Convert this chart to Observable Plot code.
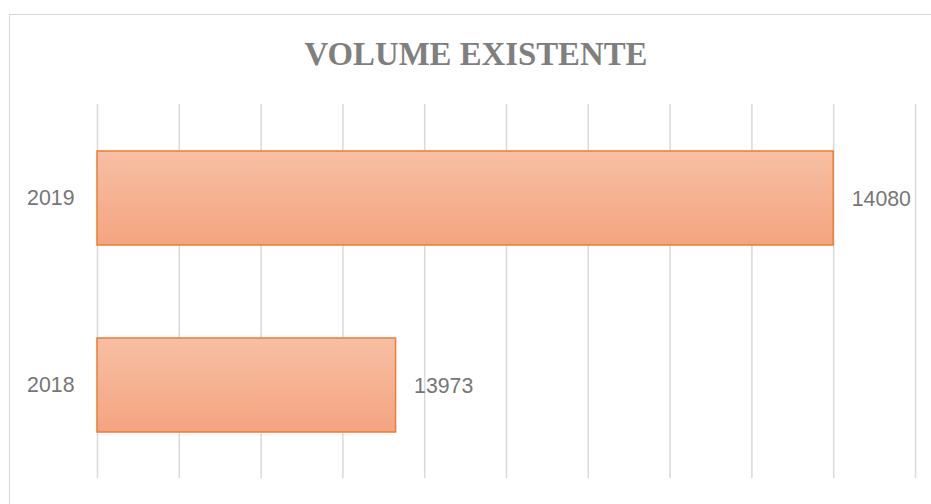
<!DOCTYPE html>
<html>
<head>
<meta charset="utf-8">
<script src="https://cdn.jsdelivr.net/npm/d3@7"></script>
<script src="https://cdn.jsdelivr.net/npm/@observablehq/plot@0.6"></script>
<style>
  html, body { margin: 0; padding: 0; background: #fff; }
  #wrap { position: relative; width: 931px; height: 504px; overflow: hidden; }
  #frame { position: absolute; left: 9px; top: 14px; width: 940px; height: 520px;
           border-left: 1.5px solid #d9d9d9; border-top: 1.5px solid #d9d9d9; box-sizing: border-box; }
  #title { position: absolute; left: 0; top: 35px; width: 952px; text-align: center;
           font-family: "Liberation Serif", "Times New Roman", serif; font-weight: bold;
           font-size: 32.8px; color: #7f7f7f; line-height: 38px; }
  #chart { position: absolute; left: 0; top: 0; }
</style>
</head>
<body>
<div id="wrap">
  <div id="frame"></div>
  <div id="title">VOLUME EXISTENTE</div>
  <div id="chart"></div>
</div>
<script>
const categories = ["2019", "2018"];
const values = [14080, 13973];
const xDomain = [13900, 14100];
const xTicks = [13900, 13920, 13940, 13960, 13980, 14000, 14020, 14040, 14060, 14080, 14100];

const data = categories.map((c, i) => ({year: c, value: values[i]}));

const chart = Plot.plot({
  width: 931,
  height: 504,
  marginLeft: 97,
  marginRight: 16,
  marginTop: 104,
  marginBottom: 26,
  style: {background: "transparent", fontFamily: "'Liberation Sans', Arial, sans-serif"},
  x: {domain: xDomain, axis: null},
  y: {domain: categories, paddingInner: 0.5, paddingOuter: 0.25, label: null},
  marks: [
    Plot.ruleX(xTicks, {stroke: "#d9d9d9", strokeWidth: 1.5}),
    Plot.barX(data, {
      y: "year",
      x1: () => xDomain[0],
      x2: "value",
      fill: "url(#barGrad)",
      stroke: "#ED7D31",
      strokeWidth: 1.5
    }),
    Plot.text(data, {
      y: "year",
      x: "value",
      text: d => String(d.value),
      textAnchor: "start",
      dx: 18,
      dy: 1,
      fill: "#767676",
      fontSize: 21.3
    }),
    Plot.axisY({
      tickSize: 0,
      tickPadding: 23,
      fontSize: 21.3,
      color: "#767676",
      label: null
    })
  ]
});

const ns = "http://www.w3.org/2000/svg";
const defs = document.createElementNS(ns, "defs");
const grad = document.createElementNS(ns, "linearGradient");
grad.setAttribute("id", "barGrad");
grad.setAttribute("x1", "0"); grad.setAttribute("y1", "0");
grad.setAttribute("x2", "0"); grad.setAttribute("y2", "1");
[["0%", "#F7BFA4"], ["100%", "#F4A47F"]].forEach(([o, c]) => {
  const s = document.createElementNS(ns, "stop");
  s.setAttribute("offset", o);
  s.setAttribute("stop-color", c);
  grad.appendChild(s);
});
defs.appendChild(grad);
chart.insertBefore(defs, chart.firstChild);
chart.querySelectorAll("text").forEach(t => t.setAttribute("fill", "#767676"));
document.getElementById("chart").appendChild(chart);
</script>
</body>
</html>
